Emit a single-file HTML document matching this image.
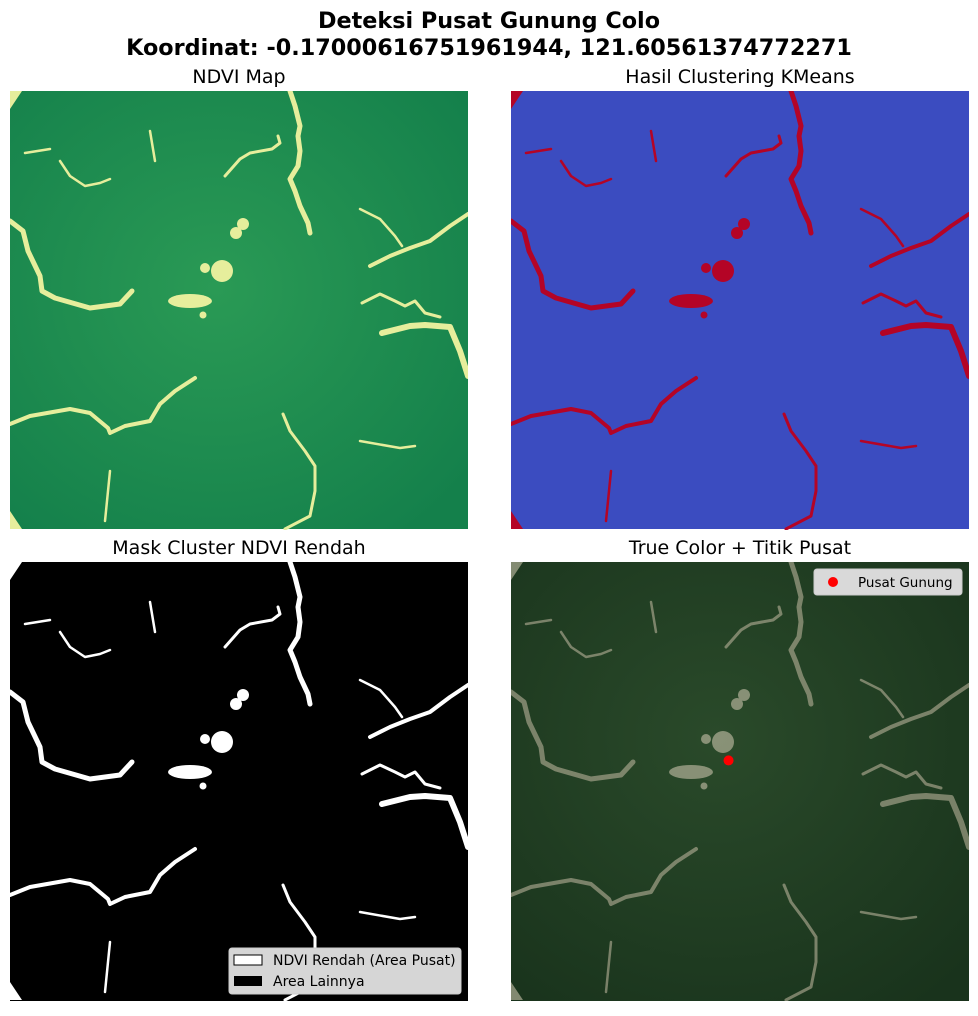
<!DOCTYPE html>
<html><head><meta charset="utf-8"><style>
body{margin:0;background:#fff;font-family:"Liberation Sans","DejaVu Sans",sans-serif;}
svg text{font-family:"DejaVu Sans","Liberation Sans",sans-serif;}
</style></head><body>
<svg width="978" height="1011" viewBox="0 0 978 1011">
<defs>
<g id="rivers">
<g fill="none" stroke-linecap="round" stroke-linejoin="round">
<path d="M0,130 L13,140 L18,160 L30,185 L32,200 L45,207 L80,217 L110,213 L122,200" stroke-width="5"/>
<path d="M280,0 L285,15 L290,35 L288,45 L290,60 L288,75 L280,88 L285,100 L290,115 L298,132 L300,142" stroke-width="5"/>
<path d="M268,45 L270,52 L262,58 L240,62 L230,68 L215,85" stroke-width="3"/>
<path d="M458,123 L440,135 L420,150 L400,157 L380,165 L360,175" stroke-width="4"/>
<path d="M350,118 L370,128 L385,145 L392,155" stroke-width="2.5"/>
<path d="M352,212 L370,203 L385,210 L395,215 L405,210 L415,222 L430,226" stroke-width="3"/>
<path d="M372,242 L400,235 L415,234 L440,236 L450,260 L458,285" stroke-width="6"/>
<path d="M0,333 L20,325 L60,318 L80,322 L98,337 L100,342 L115,335 L140,330 L150,313 L165,300 L185,287" stroke-width="4"/>
<path d="M273,323 L280,340 L295,360 L305,375 L305,400 L300,425 L275,438" stroke-width="3"/>
<path d="M15,62 L40,58 M50,70 L60,85 L75,95 L90,92 L100,88" stroke-width="2.5"/>
<path d="M140,40 L145,70 M350,350 L390,357 L405,355 M100,380 L95,430" stroke-width="2.5"/>
</g>
<g stroke="none">
<path d="M0,0 L12,0 L0,18 Z M0,420 L12,438 L0,438 Z"/>
<circle cx="233" cy="133" r="6"/>
<circle cx="226" cy="142" r="6"/>
<circle cx="212" cy="180" r="11"/>
<circle cx="195" cy="177" r="5"/>
<ellipse cx="180" cy="210" rx="22" ry="7"/>
<circle cx="193" cy="224" r="3.5"/>
</g>
</g>
<radialGradient id="ndviG" cx="45%" cy="45%" r="70%"><stop offset="0" stop-color="#2a9a55"/><stop offset="1" stop-color="#14804b"/></radialGradient>
<radialGradient id="tcG" cx="45%" cy="40%" r="75%"><stop offset="0" stop-color="#2a4a2a"/><stop offset="1" stop-color="#19331c"/></radialGradient>
<clipPath id="cp"><rect x="0" y="0" width="458" height="439"/></clipPath>
</defs>

<text x="489" y="28" text-anchor="middle" font-size="22.3" font-weight="bold">Deteksi Pusat Gunung Colo</text>
<text x="489" y="55" text-anchor="middle" font-size="22.3" font-weight="bold">Koordinat: -0.17000616751961944, 121.60561374772271</text>

<text x="239" y="83" text-anchor="middle" font-size="19">NDVI Map</text>
<g transform="translate(10,91)" clip-path="url(#cp)">
<rect width="458" height="438" fill="url(#ndviG)"/>
<use href="#rivers" stroke="#e6ee9c" fill="#e6ee9c"/>
</g>

<text x="740" y="83" text-anchor="middle" font-size="19">Hasil Clustering KMeans</text>
<g transform="translate(511,91)" clip-path="url(#cp)">
<rect width="458" height="438" fill="#3b4cc0"/>
<use href="#rivers" stroke="#b40426" fill="#b40426"/>
</g>

<text x="239" y="554" text-anchor="middle" font-size="19">Mask Cluster NDVI Rendah</text>
<g transform="translate(10,562)" clip-path="url(#cp)">
<rect width="458" height="439" fill="#000"/>
<use href="#rivers" stroke="#fff" fill="#fff"/>
</g>
<g>
<rect x="229" y="948" width="232" height="46" rx="3" fill="#d6d6d6" stroke="#ccc"/>
<rect x="234" y="955" width="28" height="10" fill="#fff" stroke="#000"/>
<text x="273" y="965" font-size="14">NDVI Rendah (Area Pusat)</text>
<rect x="234" y="976" width="28" height="10" fill="#000"/>
<text x="273" y="986" font-size="14">Area Lainnya</text>
</g>

<text x="740" y="554" text-anchor="middle" font-size="19">True Color + Titik Pusat</text>
<g transform="translate(511,562)" clip-path="url(#cp)">
<rect width="458" height="439" fill="url(#tcG)"/>
<g opacity="0.6"><use href="#rivers" stroke="#b8b29a" fill="#c8c2aa"/></g>
<g id="pts"></g>
</g>
<g>
<rect x="814" y="569" width="148" height="26" rx="3" fill="#d9d9d9" stroke="#ccc"/>
<circle cx="833" cy="582" r="5" fill="#ff0000"/>
<text x="858" y="587" font-size="13.5">Pusat Gunung</text>
</g>
</svg>
<script>
const centerX=[0.475];
const centerY=[0.452];
const g=document.getElementById('pts');
for(let i=0;i<centerX.length;i++){
const c=document.createElementNS('http://www.w3.org/2000/svg','circle');
c.setAttribute('cx',centerX[i]*458);
c.setAttribute('cy',centerY[i]*439);
c.setAttribute('r',5);
c.setAttribute('fill','#ff0000');


g.appendChild(c);
}
</script>
</body></html>
